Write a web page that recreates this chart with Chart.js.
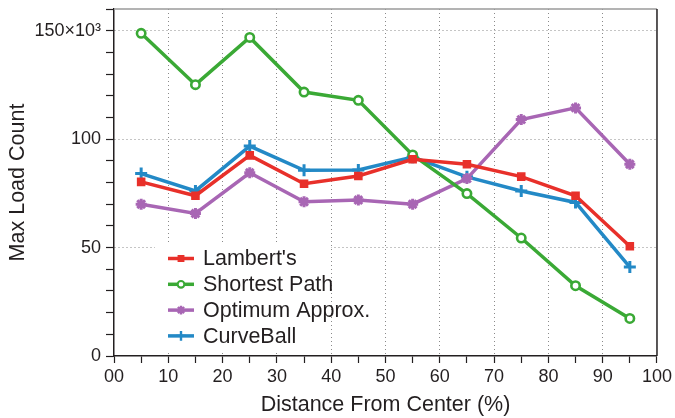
<!DOCTYPE html>
<html>
<head>
<meta charset="utf-8">
<script src="https://cdn.jsdelivr.net/npm/chart.js@4/dist/chart.umd.min.js"></script>
<style>
    html, body { margin: 0; padding: 0; background: #fff; }
    #wrap { width: 675px; height: 418px; }
</style>
</head>
<body>
<div id="wrap"><canvas id="lineGraph" width="675" height="418"></canvas></div>
<script>
// Chart data
const distances = [5, 15, 25, 35, 45, 55, 65, 75, 85, 95];
const lambertValues = [80.3, 73.9, 92.5, 79.4, 83.0, 90.7, 88.4, 82.7, 73.9, 50.6];
const shortestPathValues = [148.8, 125.1, 146.9, 121.7, 117.9, 92.7, 74.9, 54.4, 32.4, 17.3];
const optimumValues = [70.0, 65.7, 84.5, 71.1, 71.9, 70.0, 81.8, 109.0, 114.4, 88.4];
const curveBallValues = [84.1, 76.1, 96.8, 85.6, 85.8, 91.7, 82.6, 76.1, 70.8, 41.0];
const seriesNames = ["Lambert's", "Shortest Path", "Optimum Approx.", "CurveBall"];
const xTickLabels = { 0: "00", 10: "10", 20: "20", 30: "30", 40: "40", 50: "50", 60: "60", 70: "70", 80: "80", 90: "90", 100: "100" };
const yTickLabels = { 0: "0", 50: "50", 100: "100", 150: "150\u00d710\u00b3" };

const FONT = '"Liberation Sans", Arial, Helvetica, sans-serif';
const TEXT_COLOR = '#231f20';


function points(values) {
    return distances.map((d, i) => ({ x: d, y: values[i] }));
}


// Legend drawn inside the plot, line + marker like the original
const insideLegend = {
    id: 'insideLegend',
    afterDatasetsDraw(chart) {
        const { ctx, chartArea } = chart;
        const left = chartArea.left + 41;
        const top = chartArea.top + 234;

        ctx.save();
        ctx.fillStyle = '#fff';
        ctx.fillRect(left, top, 176, 108);

        ctx.font = '21.5px ' + FONT;
        ctx.textBaseline = 'middle';
        let y = top + 15.5;
        for (const ds of chart.data.datasets) {
            const x0 = left + 13;
            ctx.strokeStyle = ds.borderColor;
            ctx.lineWidth = 3.5;
            ctx.beginPath();
            ctx.moveTo(x0, y);
            ctx.lineTo(x0 + 26, y);
            ctx.stroke();

            ctx.fillStyle = ds.pointBackgroundColor;
            ctx.strokeStyle = ds.borderColor;
            ctx.lineWidth = ds.pointBorderWidth * 0.8;
            Chart.helpers.drawPoint(ctx, {
                pointStyle: ds.pointStyle,
                radius: ds.pointRadius * 0.8,
                borderWidth: ds.pointBorderWidth * 0.8,
                rotation: 0
            }, x0 + 13, y);

            ctx.fillStyle = TEXT_COLOR;
            ctx.fillText(ds.label, x0 + 35, y + 1);
            y += 25.8;
        }
        ctx.restore();
    }
};


// Frame on the top (grey) and right (black) of the plot
const plotFrame = {
    id: 'plotFrame',
    afterDraw(chart) {
        const { ctx, chartArea } = chart;
        ctx.save();
        ctx.lineWidth = 1.5;
        ctx.strokeStyle = '#9a9a9a';
        ctx.beginPath();
        ctx.moveTo(chartArea.left, chartArea.top);
        ctx.lineTo(chartArea.right, chartArea.top);
        ctx.stroke();
        ctx.strokeStyle = '#231f20';
        ctx.beginPath();
        ctx.moveTo(chartArea.right, chartArea.top);
        ctx.lineTo(chartArea.right, chartArea.bottom);
        ctx.stroke();
        ctx.restore();
    }
};


function makeDataset(label, values, color, style, radius, borderWidth, fill) {
    return {
        label: label,
        data: points(values),
        borderColor: color,
        backgroundColor: color,
        borderWidth: 3.5,
        pointStyle: style,
        pointRadius: radius,
        pointHoverRadius: radius,
        pointBorderWidth: borderWidth,
        pointBorderColor: color,
        pointBackgroundColor: fill,
        fill: false,
        tension: 0
    };
}


const datasets = [
    makeDataset(seriesNames[0], lambertValues, '#e8302a', 'rect', 5, 1.5, '#e8302a'),
    makeDataset(seriesNames[1], shortestPathValues, '#3aa935', 'circle', 4.2, 2.6, '#fff'),
    makeDataset(seriesNames[2], optimumValues, '#a866b4', 'star', 5.5, 3, '#a866b4'),
    makeDataset(seriesNames[3], curveBallValues, '#2389c6', 'cross', 6, 3, '#2389c6')
];


const lineGraph = new Chart(
    document.getElementById('lineGraph').getContext('2d'),
    {
        type: 'line',
        data: { datasets: datasets },
        plugins: [insideLegend, plotFrame],
        options: {
            responsive: false,
            animation: false,
            layout: { padding: { top: 7, right: 17, left: 0, bottom: 0 } },
            plugins: {
                legend: { display: false },
                tooltip: { enabled: false }
            },
            scales: {
                x: {
                    type: 'linear',
                    min: 0,
                    max: 100,
                    afterFit: scale => { scale.height = 62; },
                    ticks: {
                        stepSize: 5,
                        autoSkip: false,
                        maxRotation: 0,
                        padding: 3,
                        color: TEXT_COLOR,
                        font: { family: FONT, size: 18 },
                        callback: v => xTickLabels[v] ?? []
                    },
                    grid: {
                        color: c => (c.tick && c.tick.value % 10 === 0 && c.tick.value > 0 && c.tick.value < 100) ? '#8a8a8a' : 'rgba(0,0,0,0)',
                        lineWidth: 1,
                        tickColor: '#231f20',
                        tickLength: 7,
                        tickWidth: 1.2
                    },
                    border: { color: '#231f20', width: 1.5, dash: [1, 3] },
                    title: {
                        display: true,
                        text: 'Distance From Center (%)',
                        color: TEXT_COLOR,
                        font: { family: FONT, size: 21.5 },
                        padding: { top: 0, bottom: 0 }
                    }
                },
                y: {
                    min: 0,
                    max: 160,
                    afterFit: scale => { scale.width = 114; },
                    ticks: {
                        stepSize: 10,
                        autoSkip: false,
                        padding: 5,
                        color: TEXT_COLOR,
                        font: { family: FONT, size: 18 },
                        callback: v => yTickLabels[v] ?? []
                    },
                    grid: {
                        color: c => (c.tick && c.tick.value % 50 === 0 && c.tick.value > 0) ? '#8a8a8a' : 'rgba(0,0,0,0)',
                        lineWidth: 1,
                        tickColor: '#231f20',
                        tickLength: 8,
                        tickWidth: 1.2
                    },
                    border: { color: '#231f20', width: 1.5, dash: [1, 3] },
                    title: {
                        display: true,
                        text: 'Max Load Count',
                        color: TEXT_COLOR,
                        font: { family: FONT, size: 21.5 },
                        padding: { top: 5, bottom: 0 }
                    }
                }
            }
        }
    }
);
</script>
</body>
</html>
